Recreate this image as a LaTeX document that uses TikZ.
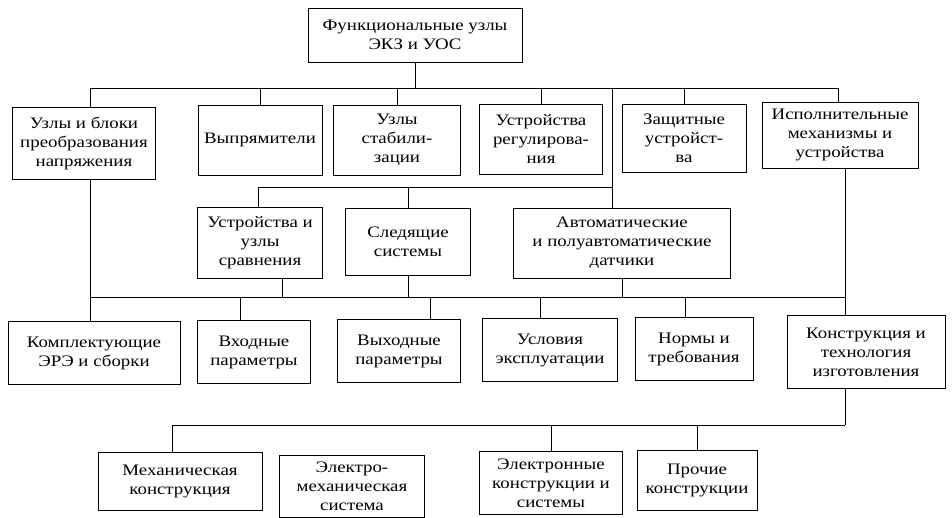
\documentclass[tikz,border=0pt]{standalone}
\usepackage{fontspec}
\setmainfont[FakeStretch=1.18]{Liberation Serif}
\usetikzlibrary{positioning}
\tikzset{blok/.style={draw,thick,align=center,inner sep=2pt,font=\fontsize{16}{19}\selectfont}}
\begin{document}
\begin{tikzpicture}[x=1pt,y=-1pt,thick]
		%%Frame
		\useasboundingbox (0,0) rectangle (952,518);
		%%Level 0
		\node[blok,minimum width=214,minimum height=54] (fu) at (415,35) {Функциональные узлы\\ЭКЗ и УОС};
		%%Level 1
		\node[blok,minimum width=143,minimum height=72] (ub) at (84,143) {Узлы и блоки\\преобразования\\напряжения};
		\node[blok,minimum width=124,minimum height=70] (vy) at (260,140) {Выпрямители};
		\node[blok,minimum width=127,minimum height=70] (us) at (397,140) {Узлы\\стабили-\\зации};
		\node[blok,minimum width=123,minimum height=70] (ur) at (541,139) {Устройства\\регулирова-\\ния};
		\node[blok,minimum width=124,minimum height=68] (zu) at (684,138) {Защитные\\устройст-\\ва};
		\node[blok,minimum width=156,minimum height=66] (im) at (840,135) {Исполнительные\\механизмы и\\устройства};
		%%Level 2
		\node[blok,minimum width=125,minimum height=71] (uu) at (260,243) {Устройства и\\узлы\\сравнения};
		\node[blok,minimum width=125,minimum height=67] (ss) at (408,242) {Следящие\\системы};
		\node[blok,minimum width=217,minimum height=70] (ad) at (622,243) {Автоматические\\и полуавтоматические\\датчики};
		%%Level 3
		\node[blok,minimum width=172,minimum height=63] (ke) at (94,353) {Комплектующие\\ЭРЭ и сборки};
		\node[blok,minimum width=113,minimum height=63] (vh) at (254,352) {Входные\\параметры};
		\node[blok,minimum width=123,minimum height=63] (vp) at (399,351) {Выходные\\параметры};
		\node[blok,minimum width=135,minimum height=63] (ue) at (550,350) {Условия\\эксплуатации};
		\node[blok,minimum width=118,minimum height=63] (nt) at (694,349) {Нормы и\\требования};
		\node[blok,minimum width=158,minimum height=73] (kt) at (866,352) {Конструкция и\\технология\\изготовления};
		%%Level 4
		\node[blok,minimum width=164,minimum height=58] (mk) at (180,481) {Механическая\\конструкция};
		\node[blok,minimum width=145,minimum height=62] (em) at (352,486) {Электро-\\механическая\\система};
		\node[blok,minimum width=143,minimum height=63] (ek) at (551,483) {Электронные\\конструкции и\\системы};
		\node[blok,minimum width=120,minimum height=60] (pk) at (697,480) {Прочие\\конструкции};
		%%Buses
		\coordinate (b1l) at (90,88);
		\coordinate (b1r) at (838,88);
		\coordinate (b2l) at (258,187);
		\coordinate (b2r) at (612,187);
		\coordinate (b3l) at (90,297);
		\coordinate (b3r) at (845,297);
		\coordinate (b4l) at (172,425);
		\coordinate (b4r) at (845,425);
		\draw (b1l) -- (b1r);
		\draw (b2l) -- (b2r);
		\draw (b3l) -- (b3r);
		\draw (b4l) -- (b4r);
		%%Level 0 to 1
		\draw (fu) -- (fu |- b1l);
		\draw (b1l) -- (b1l |- ub.north);
		\draw (vy) -- (vy |- b1l);
		\draw (us) -- (us |- b1l);
		\draw (ur) -- (ur |- b1l);
		\draw (zu) -- (zu |- b1l);
		\draw (b1r) -- (b1r |- im.north);
		\draw (612,88) -- (612,208);
		%%Level 2
		\draw (b2l) -- (b2l |- uu.north);
		\draw (ss) -- (ss |- b2l);
		%%Level 3
		\draw (b3l |- ub.south) -- (b3l);
		\draw (b3l) -- (b3l |- ke.north);
		\draw (282,297) -- (282,278.5);
		\draw (ss) -- (ss |- b3l);
		\draw (ad) -- (ad |- b3l);
		\draw (240,297) -- (240,320.5);
		\draw (430,297) -- (430,319.5);
		\draw (540,297) -- (540,318.5);
		\draw (685,297) -- (685,317.5);
		\draw (b3r |- im.south) -- (b3r |- kt.north);
		%%Level 4
		\draw (b4r |- kt.south) -- (b4r);
		\draw (b4l) -- (b4l |- mk.north);
		\draw (ek) -- (ek |- b4l);
		\draw (pk) -- (pk |- b4l);
\end{tikzpicture}
\end{document}
